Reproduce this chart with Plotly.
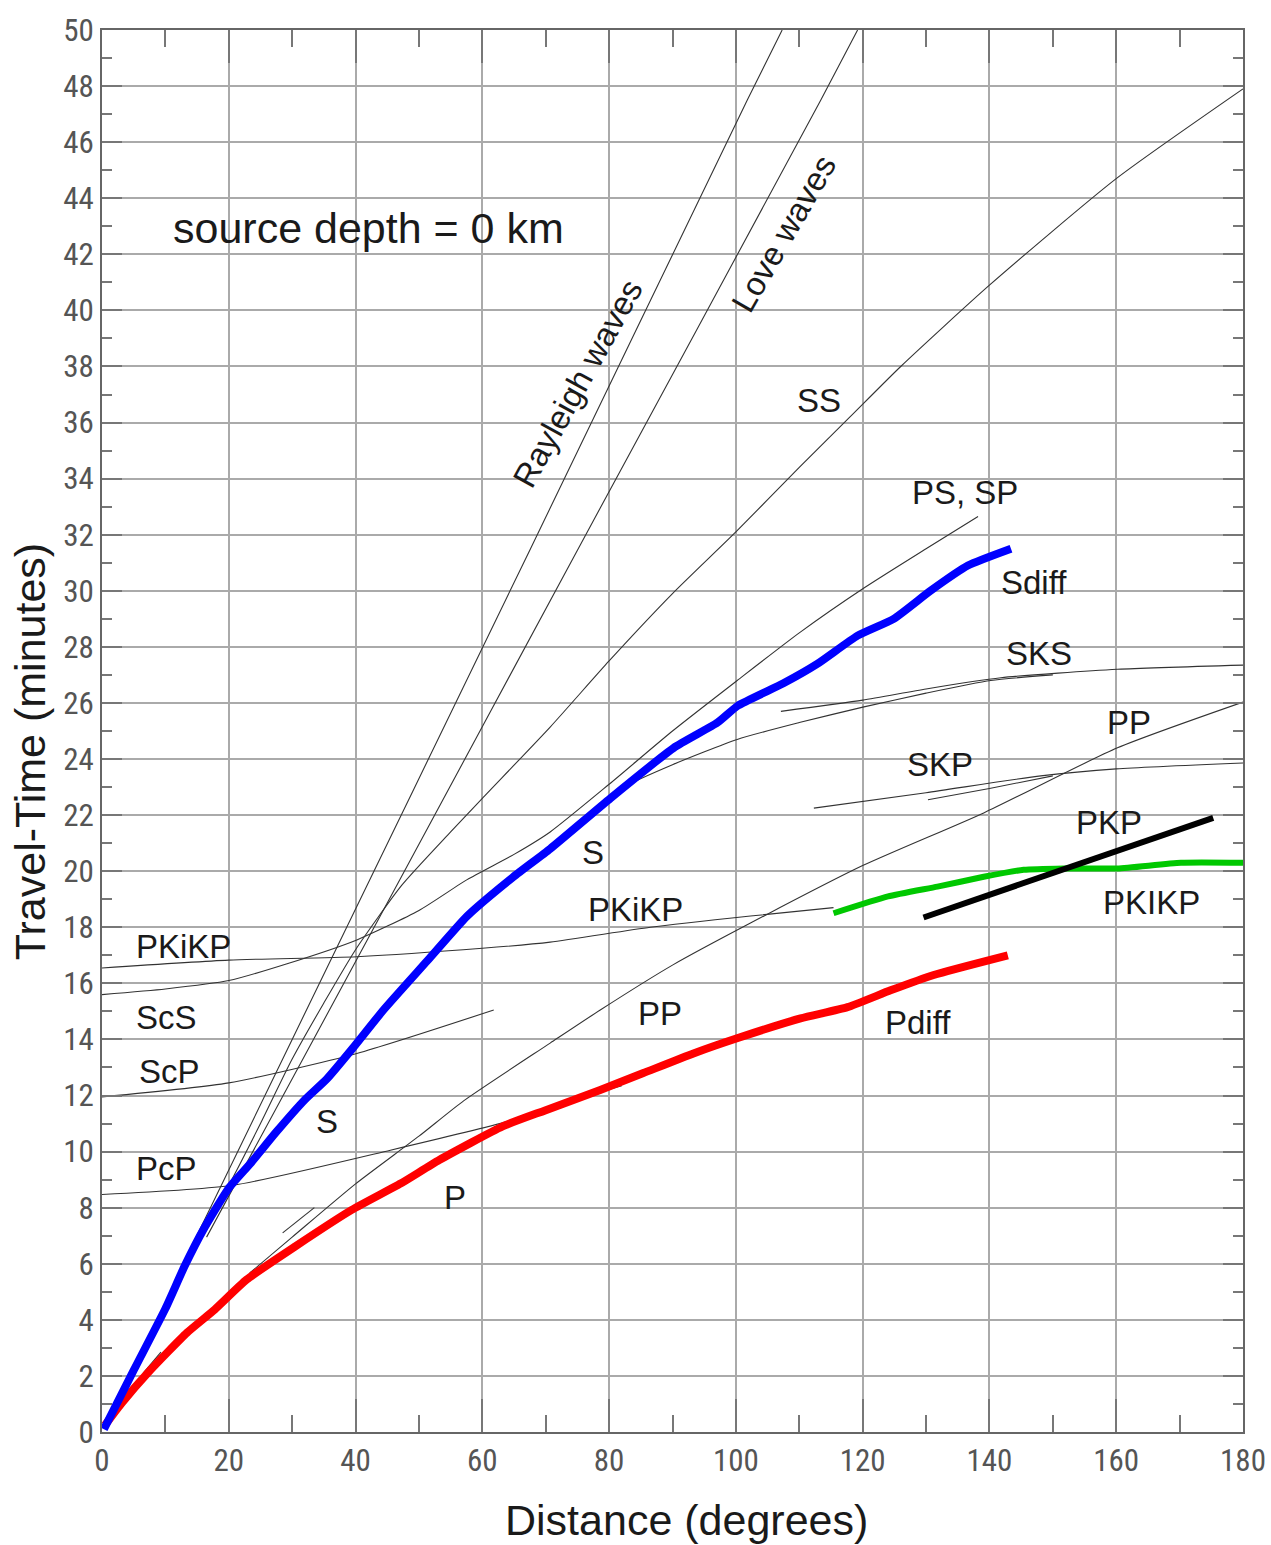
import plotly.graph_objects as go

# ---------------- data (distance in degrees, time in minutes) ----------------
s_x = [0.3, 5, 10, 13, 16.2, 20, 23.5, 27.5, 32, 35.5, 39.6, 44.4, 51.3, 57.6, 64.9, 70.7, 80.2, 90.2, 97.1, 100.3, 107.5, 112.9, 119.2, 124.9, 130.7, 136.6, 143.4]
s_y = [0.1, 2.2, 4.4, 5.9, 7.3, 8.7, 9.6, 10.7, 11.85, 12.6, 13.7, 15.05, 16.8, 18.4, 19.8, 20.8, 22.6, 24.4, 25.3, 25.9, 26.7, 27.4, 28.4, 29.0, 30.0, 30.9, 31.5]

p_x = [0.5, 3, 7.6, 13.4, 17.8, 22.8, 30.5, 39.4, 47.1, 53.2, 63.2, 69.9, 78.6, 85.4, 93.3, 100.3, 110.2, 117.6, 124.4, 131.2, 142.9]
p_y = [0.25, 1.0, 2.2, 3.54, 4.37, 5.43, 6.62, 7.92, 8.86, 9.7, 10.9, 11.47, 12.2, 12.8, 13.5, 14.05, 14.75, 15.15, 15.75, 16.3, 17.0]

pkikp_x = [115.4, 124, 131.8, 139.1, 145.4, 151.7, 160.2, 170.2, 180]
pkikp_y = [18.5, 19.1, 19.45, 19.8, 20.05, 20.1, 20.1, 20.3, 20.3]

pkp_x = [129.6, 149.7, 175.3]
pkp_y = [18.35, 19.9, 21.9]

# thin reference curves
rayleigh_x = [14, 30, 67.6, 101.8, 107.3]
rayleigh_y = [6.55, 14.0, 31.5, 47.5, 50.0]
love_x = [16.5, 47, 75, 113.4, 119.2]
love_y = [6.95, 19.7, 31.45, 47.5, 50.0]
ss_x = [16, 20, 25, 30, 35, 40, 47.3, 55, 60, 70.7, 80, 90, 100, 110, 118, 126, 140, 160, 180]
ss_y = [7.2, 8.8, 11.0, 13.3, 15.3, 17.2, 19.5, 21.4, 22.6, 25.14, 27.5, 29.9, 32.1, 34.4, 36.2, 38.0, 40.9, 44.7, 47.9]
scs_ps_x = [0, 10, 20, 29.2, 40.2, 50, 57.6, 65, 70.7, 80, 90, 100.2, 110, 120.2, 130, 138.2]
scs_ps_y = [15.6, 15.8, 16.1, 16.7, 17.55, 18.6, 19.7, 20.6, 21.4, 23.1, 25.0, 26.8, 28.5, 30.1, 31.5, 32.65]
pkikp_thin_x = [0, 20, 40.2, 60, 70.7, 86.5, 102.3, 115.4]
pkikp_thin_y = [16.55, 16.83, 16.95, 17.25, 17.47, 18.0, 18.4, 18.7]
scp_x = [0, 20, 40.2, 61.8]
scp_y = [11.95, 12.45, 13.5, 15.05]
pcp_x = [0, 20.7, 45.5, 66, 70.7, 82]
pcp_y = [8.47, 8.8, 10.05, 11.2, 11.6, 12.35]
pp_x = [23.3, 30, 40, 50, 57.1, 70.7, 78.6, 90, 102.3, 120, 139.1, 160.2, 180]
pp_y = [5.67, 6.95, 8.85, 10.55, 11.82, 13.87, 15.05, 16.65, 18.15, 20.2, 22.08, 24.4, 26.03]
pp_branch_x = [28.5, 33.5]
pp_branch_y = [7.1, 8.0]
near_x = [6.5, 9.3]
near_y = [2.1, 2.85]
sks_x = [80, 82.3, 90, 100.2, 110, 120.2, 130, 140.2, 150]
sks_y = [22.6, 23.0, 23.8, 24.7, 25.3, 25.86, 26.35, 26.8, 27.0]
skks_x = [107.1, 120, 130, 141.8, 160.2, 180]
skks_y = [25.7, 26.1, 26.5, 26.9, 27.2, 27.35]
skp_x = [112.3, 130, 148.1, 160, 180]
skp_y = [22.25, 22.8, 23.4, 23.65, 23.86]
skp2_x = [130.3, 140, 150]
skp2_y = [22.55, 22.95, 23.4]

x_ticks = [0, 20, 40, 60, 80, 100, 120, 140, 160, 180]
y_ticks = list(range(0, 51, 2))

labels = [
    ("source depth = 0 km", 42.0, 42.94, 43, 0),
    ("SS", 113.1, 36.77, 33, 0),
    ("PS, SP", 136.1, 33.49, 33, 0),
    ("Sdiff", 147.0, 30.31, 33, 0),
    ("SKS", 147.8, 27.75, 33, 0),
    ("PP", 162.0, 25.32, 33, 0),
    ("SKP", 132.2, 23.79, 33, 0),
    ("PKP", 158.8, 21.75, 33, 0),
    ("S", 77.4, 20.68, 33, 0),
    ("PKiKP", 84.2, 18.62, 33, 0),
    ("PKIKP", 165.5, 18.9, 33, 0),
    ("PKiKP", 12.8, 17.33, 33, 0),
    ("ScS", 10.1, 14.8, 33, 0),
    ("PP", 88.1, 14.94, 33, 0),
    ("Pdiff", 128.7, 14.59, 33, 0),
    ("ScP", 10.6, 12.87, 33, 0),
    ("S", 35.5, 11.09, 33, 0),
    ("PcP", 10.1, 9.38, 33, 0),
    ("P", 55.7, 8.35, 33, 0),
    ("Rayleigh waves", 75.0, 37.4, 33, -61),
    ("Love waves", 107.5, 42.76, 33, -60),
]

# ---------------- figure ----------------
fig = go.Figure()

thin = dict(color="#333333", width=1.1)
for xs, ys in [(rayleigh_x, rayleigh_y), (love_x, love_y), (ss_x, ss_y), (scs_ps_x, scs_ps_y),
               (pkikp_thin_x, pkikp_thin_y), (scp_x, scp_y), (pcp_x, pcp_y),
               (pp_x, pp_y), (pp_branch_x, pp_branch_y), (near_x, near_y), (sks_x, sks_y),
               (skks_x, skks_y), (skp_x, skp_y), (skp2_x, skp2_y)]:
    fig.add_trace(go.Scatter(x=xs, y=ys, mode="lines", line=dict(thin, shape="spline", smoothing=0.6),
                             hoverinfo="skip", showlegend=False))

fig.add_trace(go.Scatter(x=p_x, y=p_y, mode="lines", line=dict(color="#ff0000", width=8, shape="spline", smoothing=0.5),
                         showlegend=False, name="P / Pdiff"))
fig.add_trace(go.Scatter(x=s_x, y=s_y, mode="lines", line=dict(color="#0000ff", width=8, shape="spline", smoothing=0.5),
                         showlegend=False, name="S / Sdiff"))
fig.add_trace(go.Scatter(x=pkikp_x, y=pkikp_y, mode="lines", line=dict(color="#00c800", width=6, shape="spline", smoothing=0.5),
                         showlegend=False, name="PKIKP"))
fig.add_trace(go.Scatter(x=pkp_x, y=pkp_y, mode="lines", line=dict(color="#000000", width=6),
                         showlegend=False, name="PKP"))

for text, x, y, size, ang in labels:
    fig.add_annotation(x=x, y=y, xref="x", yref="y", text=text, showarrow=False, textangle=ang,
                       xanchor="center", yanchor="middle",
                       font=dict(family="Liberation Sans, Arimo, Arial, sans-serif", size=size, color="#1a1a1a"))

fig.add_annotation(x=-0.063, y=0.485, xref="paper", yref="paper", text="Travel-Time (minutes)", showarrow=False,
                   xanchor="center", yanchor="middle", textangle=-90,
                   font=dict(family="Liberation Sans, Arial, sans-serif", size=43, color="#1a1a1a"))
fig.add_annotation(x=0.512, y=-0.0628, xref="paper", yref="paper", text="Distance (degrees)", showarrow=False,
                   xanchor="center", yanchor="middle",
                   font=dict(family="Liberation Sans, Arial, sans-serif", size=43, color="#1a1a1a"))

tickfont = dict(family="Liberation Sans Narrow, Roboto Condensed, DejaVu Sans Condensed, Arial Narrow, Liberation Sans, sans-serif",
                size=31, color="#555555")

fig.update_xaxes(range=[0, 180], tickvals=x_ticks, ticktext=[str(v) for v in x_ticks], automargin=False,
                 showgrid=True, gridcolor="#aaaaaa", gridwidth=1.5, zeroline=False,
                 showline=True, linecolor="#666666", linewidth=2, mirror="ticks",
                 ticks="inside", ticklen=33, tickwidth=2, tickcolor="#777777",
                 minor=dict(dtick=10, tick0=0, ticks="inside", ticklen=17, tickwidth=2, tickcolor="#777777", showgrid=False),
                 tickfont=tickfont, fixedrange=True)
fig.update_yaxes(range=[0, 50], tickvals=y_ticks, ticktext=[str(v) for v in y_ticks], automargin=False,
                 showgrid=True, gridcolor="#aaaaaa", gridwidth=1.5, zeroline=False,
                 showline=True, linecolor="#666666", linewidth=2, mirror="ticks",
                 ticks="inside", ticklen=20, tickwidth=2, tickcolor="#777777",
                 minor=dict(dtick=1, tick0=0, ticks="inside", ticklen=10, tickwidth=2, tickcolor="#777777", showgrid=False),
                 tickfont=tickfont, fixedrange=True)

fig.update_layout(width=1271, height=1545, margin=dict(l=102, r=28, t=30, b=113, autoexpand=False),
                  plot_bgcolor="white", paper_bgcolor="white", showlegend=False)

fig.write_html("out.html")
